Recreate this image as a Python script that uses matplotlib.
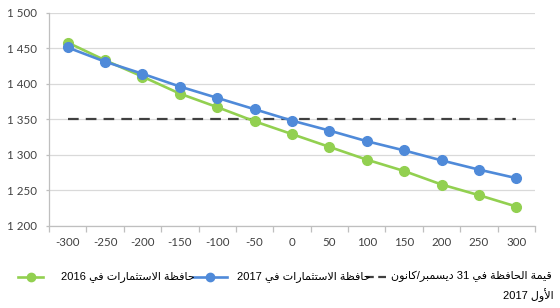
import re
import matplotlib
matplotlib.use("Agg")
import matplotlib.pyplot as plt
from matplotlib.lines import Line2D

# data
categories = [-300, -250, -200, -150, -100, -50, 0, 50, 100, 150, 200, 250, 300]
portfolio_2016 = [1458, 1433, 1410, 1386, 1367, 1347, 1329, 1311, 1293, 1277, 1258, 1243, 1227]
portfolio_2017 = [1451, 1431, 1414, 1396, 1380, 1364, 1348, 1334, 1319, 1306, 1292, 1279, 1267]
value_dec_2017 = [1350] * 13
y_ticks = [1200, 1250, 1300, 1350, 1400, 1450, 1500]

label_2016 = "حافظة الاستثمارات في 2016"
label_2017 = "حافظة الاستثمارات في 2017"
label_value_1 = "قيمة الحافظة في 31 ديسمبر/كانون"
label_value_2 = "الأول 2017"

GREEN = "#92d050"
BLUE = "#4f8ad9"
DARK = "#404040"

# --- minimal arabic shaping (matplotlib has no shaping / bidi) ---
FORMS = {
    'ا': ('\uFE8D', '\uFE8E', None, None),
    'أ': ('\uFE83', '\uFE84', None, None),
    'ب': ('\uFE8F', '\uFE90', '\uFE91', '\uFE92'),
    'ة': ('\uFE93', '\uFE94', None, None),
    'ت': ('\uFE95', '\uFE96', '\uFE97', '\uFE98'),
    'ث': ('\uFE99', '\uFE9A', '\uFE9B', '\uFE9C'),
    'ح': ('\uFEA1', '\uFEA2', '\uFEA3', '\uFEA4'),
    'د': ('\uFEA9', '\uFEAA', None, None),
    'ر': ('\uFEAD', '\uFEAE', None, None),
    'س': ('\uFEB1', '\uFEB2', '\uFEB3', '\uFEB4'),
    'ظ': ('\uFEC5', '\uFEC6', '\uFEC7', '\uFEC8'),
    'ف': ('\uFED1', '\uFED2', '\uFED3', '\uFED4'),
    'ق': ('\uFED5', '\uFED6', '\uFED7', '\uFED8'),
    'ك': ('\uFED9', '\uFEDA', '\uFEDB', '\uFEDC'),
    'ل': ('\uFEDD', '\uFEDE', '\uFEDF', '\uFEE0'),
    'م': ('\uFEE1', '\uFEE2', '\uFEE3', '\uFEE4'),
    'ن': ('\uFEE5', '\uFEE6', '\uFEE7', '\uFEE8'),
    'و': ('\uFEED', '\uFEEE', None, None),
    'ي': ('\uFEF1', '\uFEF2', '\uFEF3', '\uFEF4'),
}
LAM_ALEF = {'ا': ('\uFEFB', '\uFEFC'), 'أ': ('\uFEF7', '\uFEF8')}


def shape(s):
    toks = []
    i = 0
    while i < len(s):
        if s[i] == 'ل' and i + 1 < len(s) and s[i + 1] in LAM_ALEF:
            toks.append(('lig', s[i + 1]))
            i += 2
        else:
            toks.append(('ch', s[i]))
            i += 1

    def dual(t):
        return t is not None and t[0] == 'ch' and t[1] in FORMS and FORMS[t[1]][2] is not None

    def arabic(t):
        return t is not None and (t[0] == 'lig' or t[1] in FORMS)

    out = []
    for k, t in enumerate(toks):
        prev = toks[k - 1] if k > 0 else None
        nxt = toks[k + 1] if k + 1 < len(toks) else None
        jp = dual(prev) and arabic(t)
        if t[0] == 'lig':
            out.append(LAM_ALEF[t[1]][1 if jp else 0])
            continue
        if t[1] not in FORMS:
            out.append(t[1])
            continue
        f = FORMS[t[1]]
        jn = f[2] is not None and arabic(nxt)
        if jp and jn:
            out.append(f[3])
        elif jp:
            out.append(f[1])
        elif jn:
            out.append(f[2])
        else:
            out.append(f[0])
    vis = ''.join(out)[::-1]
    return re.sub(r'[0-9]+', lambda m: m.group(0)[::-1], vis)


fig = plt.figure(figsize=(5.6, 3.08), dpi=100)
ax = fig.add_axes([49 / 560, 1 - 225.7 / 308, 486 / 560, 213 / 308])

x = list(range(len(categories)))
ax.plot(x, value_dec_2017, color=DARK, lw=1.6, dashes=(4.8, 3.2), zorder=2)
ax.plot(x, portfolio_2016, color=GREEN, lw=1.9, marker='o', ms=7, zorder=3)
ax.plot(x, portfolio_2017, color=BLUE, lw=1.9, marker='o', ms=7, zorder=4)

ax.set_xlim(-0.5, len(categories) - 0.5)
ax.set_ylim(1200, 1500)
ax.set_yticks(y_ticks)
ax.set_yticklabels([f"{v:,}".replace(",", " ") for v in y_ticks])
ax.set_xticks(x)
ax.set_xticklabels([str(c) for c in categories])
ax.set_xticks([i - 0.5 for i in range(len(categories) + 1)], minor=True)

ax.grid(axis='y', color='#d9d9d9', lw=0.9)
ax.set_axisbelow(True)
for s in ['top', 'right']:
    ax.spines[s].set_visible(False)
for s in ['left', 'bottom']:
    ax.spines[s].set_color('#bfbfbf')
    ax.spines[s].set_linewidth(0.9)

ax.tick_params(axis='x', which='major', length=0, pad=8, labelsize=8.3, labelcolor='#404040')
ax.tick_params(axis='x', which='minor', length=4, color='#bfbfbf', width=0.9)
ax.tick_params(axis='y', length=2.5, color='#bfbfbf', width=0.9, pad=6, labelsize=8.3, labelcolor='#404040')
for lab in ax.get_xticklabels() + ax.get_yticklabels():
    lab.set_family(['Lato', 'DejaVu Sans'])

# legend, drawn by hand to follow the reference layout
fam = ['Liberation Sans', 'DejaVu Sans']
fs = 8.0


def fx(px):
    return px / 560


def fy(py):
    return 1 - py / 308


yrow = 276.5
fig.add_artist(Line2D([fx(18), fx(43)], [fy(yrow), fy(yrow)], color=GREEN, lw=1.9))
fig.add_artist(Line2D([fx(30.5)], [fy(yrow)], color=GREEN, marker='o', ms=6))
fig.text(fx(61), fy(yrow), shape(label_2016), ha='left', va='center', fontsize=fs, family=fam)

fig.add_artist(Line2D([fx(193), fx(227)], [fy(yrow), fy(yrow)], color=BLUE, lw=1.9))
fig.add_artist(Line2D([fx(210)], [fy(yrow)], color=BLUE, marker='o', ms=6))
fig.text(fx(237), fy(yrow), shape(label_2017), ha='left', va='center', fontsize=fs, family=fam)

fig.add_artist(Line2D([fx(366), fx(386)], [fy(yrow), fy(yrow)], color=DARK, lw=1.6, dashes=(3.5, 2.0)))
fig.text(fx(391), fy(yrow), shape(label_value_1), ha='left', va='center', fontsize=fs, family=fam)
fig.text(fx(503), fy(295), shape(label_value_2), ha='left', va='center', fontsize=fs, family=fam)

fig.savefig("out.png", dpi=100)
